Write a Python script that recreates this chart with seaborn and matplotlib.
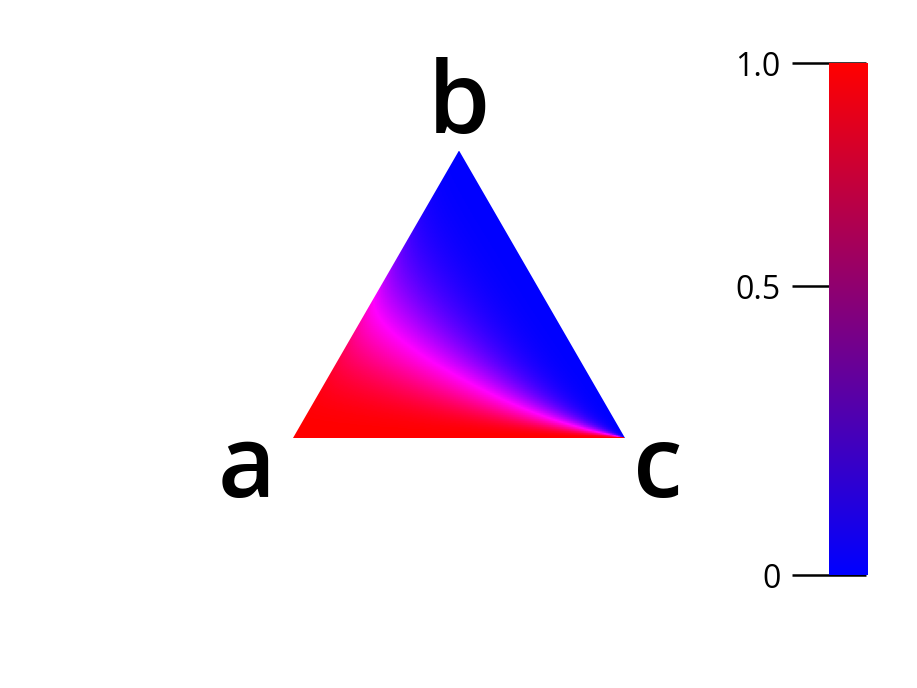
import numpy as np
import matplotlib
matplotlib.use('Agg')
import matplotlib.pyplot as plt
import matplotlib.colors as mcolors
from matplotlib.patches import Polygon
import seaborn as sns

sns.set_style('white')
plt.rcParams['font.family'] = ['Open Sans', 'DejaVu Sans']

# corner labels of the ternary triangle (a bottom-left, b top, c bottom-right)
corner_labels = ['a', 'b', 'c']

# colours of the field: f=0 blue, magenta band, f=1 red
field_nodes = [0.0, 0.5, 1.0]
field_colors = ['#0000ff', '#ff00ff', '#ff0000']
# colorbar: plain blue -> red
cbar_colors = ['#0000ff', '#ff0000']
cbar_ticks = [0, 0.5, 1.0]
cbar_ticklabels = ['0', '0.5', '1.0']
cbar_gamma = 0.826

# shape of the field f(a, b, c)
sharpness = 2.0
c_sqrt_weight = 1.2
c_cube_weight = 2.0

H = np.sqrt(3) / 2

fig = plt.figure(figsize=(9.17, 6.88), dpi=100)
ax = fig.add_axes([293 / 917, (688 - 438) / 688, 332 / 917, 287.5 / 688])

n = 500
xs = np.linspace(0, 1, n)
ys = np.linspace(0, H, int(n * H))
X, Y = np.meshgrid(xs, ys)
B = Y / H
C = X - B / 2
A = 1 - B - C
A = np.clip(A, 1e-9, None)
B = np.clip(B, 1e-9, None)
C = np.clip(C, 0, 1)
ratio = A / (B * (1 + c_sqrt_weight * np.sqrt(C) + c_cube_weight * C ** 3))
F = ratio ** sharpness / (1 + ratio ** sharpness)

tri_cmap = mcolors.LinearSegmentedColormap.from_list('tri', list(zip(field_nodes, field_colors)))
im = ax.imshow(F, cmap=tri_cmap, vmin=0, vmax=1, origin='lower',
               extent=[0, 1, 0, H], interpolation='nearest', aspect='auto')
tri = Polygon([[0, 0], [0.5, H], [1, 0]], closed=True, transform=ax.transData)
im.set_clip_path(tri)
ax.set_xlim(0, 1)
ax.set_ylim(0, H)
ax.axis('off')

lab_kw = dict(fontsize=72, fontweight='semibold', color='black', clip_on=False)
ax.text(-0.14, -0.1, corner_labels[0], ha='center', va='center', **lab_kw)
ax.text(0.5, H + 0.13, corner_labels[1], ha='center', va='center', **lab_kw)
ax.text(1.1, -0.1, corner_labels[2], ha='center', va='center', **lab_kw)

cax = fig.add_axes([829 / 917, (688 - 575) / 688, 39 / 917, 512 / 688])
cb_cmap = sns.blend_palette(cbar_colors, as_cmap=True)
sm = plt.cm.ScalarMappable(norm=mcolors.PowerNorm(gamma=cbar_gamma, vmin=0, vmax=1), cmap=cb_cmap)
cb = fig.colorbar(sm, cax=cax)
cb.outline.set_visible(False)
cb.set_ticks(cbar_ticks)
cb.set_ticklabels(cbar_ticklabels)
cb.ax.minorticks_off()
cb.ax.yaxis.set_ticks_position('left')
cb.ax.tick_params(axis='y', direction='inout', length=52.6, width=1.8,
                  labelsize=23, pad=8.5, color='black', labelcolor='black')

fig.savefig('out.png', dpi=100)
